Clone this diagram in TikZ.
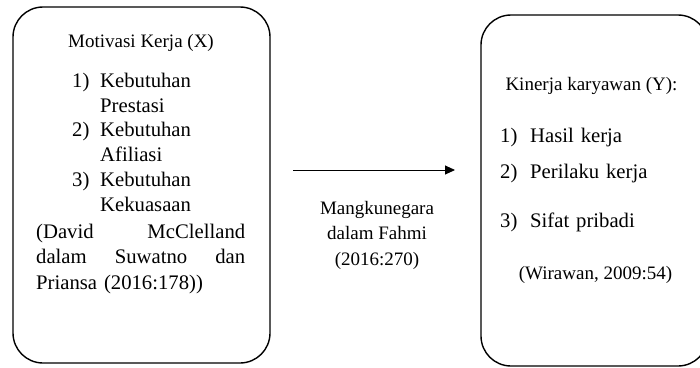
\documentclass[tikz,border=0pt]{standalone}
\usepackage{fontspec}
\setmainfont{Liberation Serif}
\usetikzlibrary{arrows.meta,positioning}

\begin{document}
\begin{tikzpicture}
  [x=1pt,y=-1pt,
   every node/.style={inner sep=0pt,font=\fontsize{19}{25.5}\selectfont},
   kotak/.style={draw,line width=1.4pt,rounded corners=30pt,rectangle},
   baris/.style={anchor=base west,align=left,text width=#1,
     font=\fontsize{20.7}{25.5}\selectfont},
   baris/.default=150pt,
   panah/.style={-{Triangle[length=10pt,width=9pt]},line width=0.9pt}]
  \useasboundingbox (0,0) rectangle (700,367);
  \clip (0,0) rectangle (700,367);

  % kotak
  \node[kotak,minimum width=257pt,minimum height=356pt] (motivasi) at (141.5,185) {};
  \node[kotak,minimum width=227pt,minimum height=351pt] (kinerja) at (594.5,190.5) {};

  % variabel X
  \node[anchor=base] (judulX) at (141,47) {Motivasi Kerja (X)};
  \foreach \n/\y in {1/87,2/136,3/186}
    \node[baris=22pt] (nrX\n) at (72,\y) {\n)};
  \node[baris] (itemX1) at (100,87) {Kebutuhan\\Prestasi};
  \node[baris] (itemX2) at (100,136) {Kebutuhan\\Afiliasi};
  \node[baris] (itemX3) at (100,186) {Kebutuhan\\Kekuasaan};
  \node[baris=209pt] (sumberX) at (36,238)
    {(David\hfill McClelland\\dalam\hfill Suwatno\hfill dan\\Priansa (2016:178))};

  % variabel Y
  \node[anchor=base] (judulY) at (591.5,90) {Kinerja karyawan (Y):};
  \foreach \n/\y/\t in {1/142/Hasil kerja,2/178/Perilaku kerja,3/227/Sifat pribadi}{
    \node[baris=22pt] (nrY\n) at (500,\y) {\n)};
    \node[baris] (itemY\n) at (530,\y) {\t};
  }
  \node[anchor=base] (sumberY) at (595.5,279) {(Wirawan, 2009:54)};

  % hubungan
  \coordinate (panahA) at (293,170);
  \coordinate (panahB) at (455,170);
  \draw[panah] (panahA) -- (panahB);
  \node[align=center] (sumberXY) at (377,235) {Mangkunegara\\dalam Fahmi\\(2016:270)};

\end{tikzpicture}
\end{document}
